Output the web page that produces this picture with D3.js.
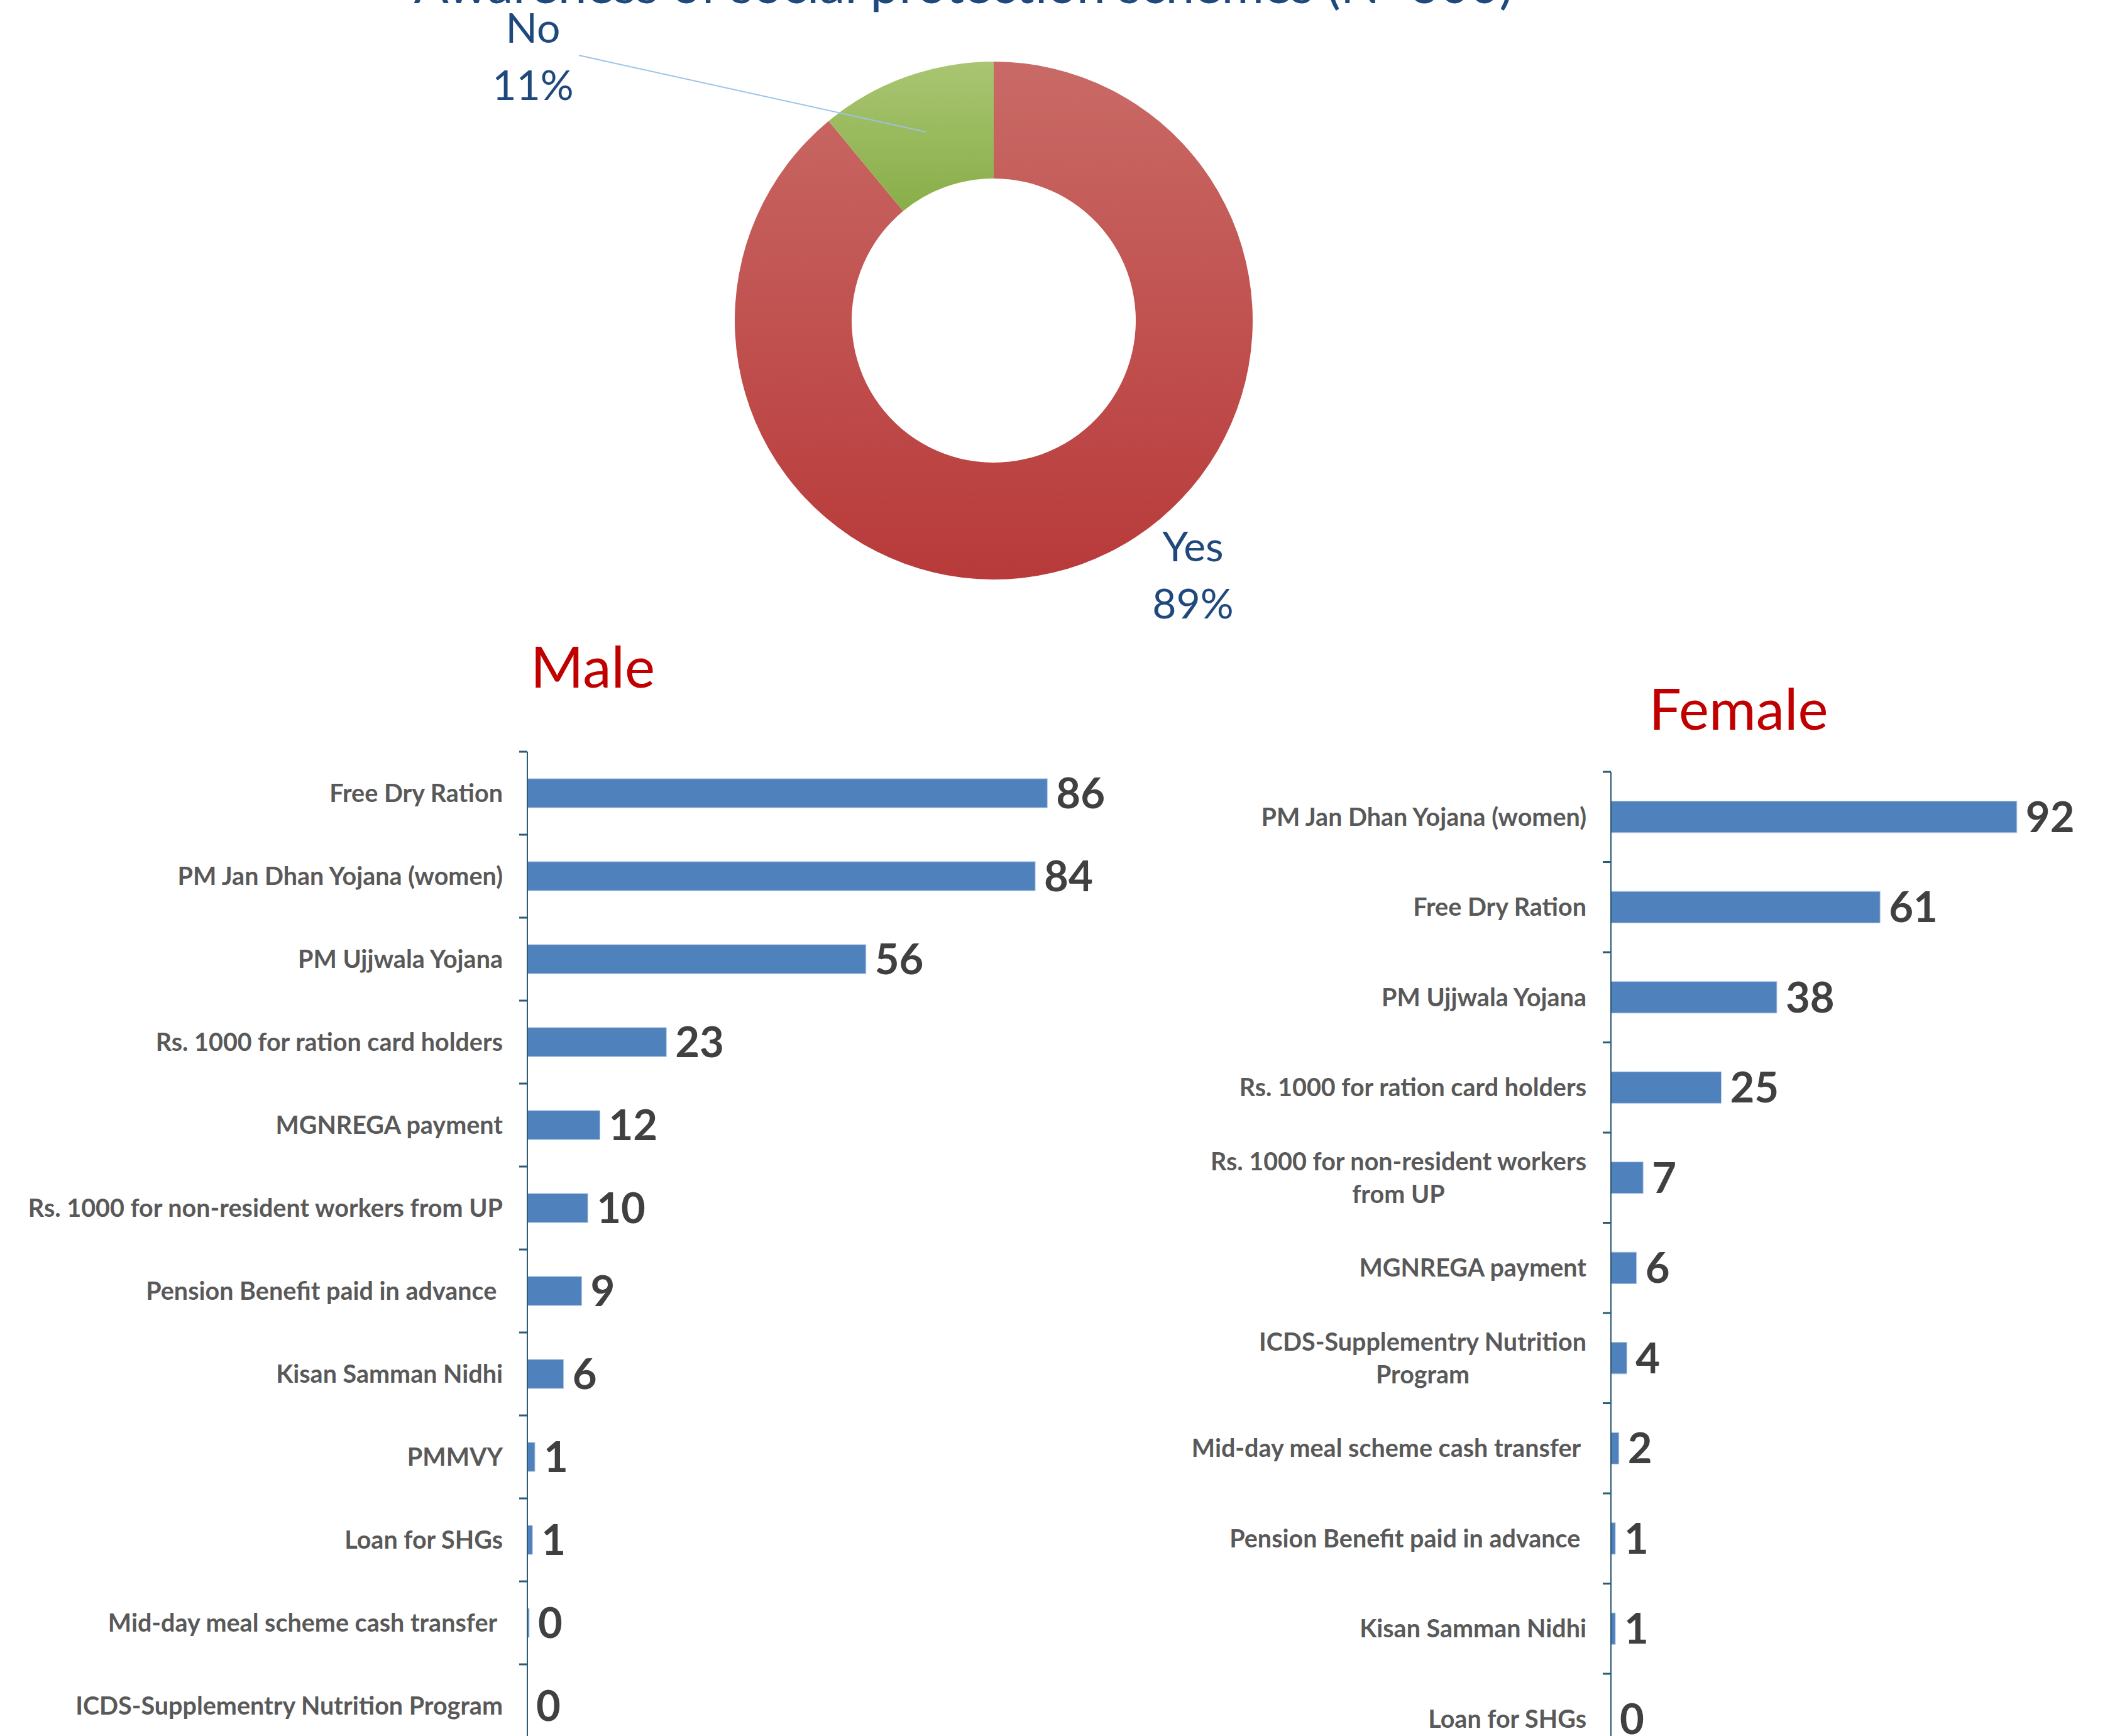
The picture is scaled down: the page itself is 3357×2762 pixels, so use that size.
<!DOCTYPE html>
<html lang="en">
<head>
    <meta charset="UTF-8">
    <title>Awareness of social protection schemes</title>
    <script src="https://cdn.jsdelivr.net/npm/d3@7"></script>
    <style>
        body { margin: 0; background: #ffffff; }
        text { font-family: Lato, "Open Sans", sans-serif; }
    </style>
</head>
<body>
<div id="container"></div>
<script>
    // donut data
    const pieLabels = ["Yes", "No"];
    const pieValues = [89, 11];

    // male schemes (top to bottom)
    const maleCategories = [
        "Free Dry Ration",
        "PM Jan Dhan Yojana (women)",
        "PM Ujjwala Yojana",
        "Rs. 1000 for ration card holders",
        "MGNREGA payment",
        "Rs. 1000 for non-resident workers from UP",
        "Pension Benefit paid in advance ",
        "Kisan Samman Nidhi",
        "PMMVY",
        "Loan for SHGs",
        "Mid-day meal scheme cash transfer ",
        "ICDS-Supplementry Nutrition Program"
    ];
    const maleValues = [86, 84, 56, 23, 12, 10, 9, 6, 1.25, 0.85, 0.3, 0];

    // female schemes (top to bottom)
    const femaleCategories = [
        "PM Jan Dhan Yojana (women)",
        "Free Dry Ration",
        "PM Ujjwala Yojana",
        "Rs. 1000 for ration card holders",
        "Rs. 1000 for non-resident workers\nfrom UP",
        "MGNREGA payment",
        "ICDS-Supplementry Nutrition\nProgram",
        "Mid-day meal scheme cash transfer ",
        "Pension Benefit paid in advance ",
        "Kisan Samman Nidhi",
        "Loan for SHGs"
    ];
    const femaleValues = [92, 61, 37.6, 25, 7.3, 5.8, 3.6, 1.8, 1, 1, 0];

    const W = 3357, H = 2762;
    let svg = d3.select("#container")
        .append("svg")
        .attr("width", W)
        .attr("height", H)
        .style("background-color", "#ffffff");

    let defs = svg.append("defs");
    function vGrad(id, top, bottom) {
        let g = defs.append("linearGradient").attr("id", id)
            .attr("x1", 0).attr("y1", 0).attr("x2", 0).attr("y2", 1);
        g.append("stop").attr("offset", "0%").attr("stop-color", top);
        g.append("stop").attr("offset", "100%").attr("stop-color", bottom);
    }
    vGrad("gYes", "#C96A66", "#B83A3A");
    vGrad("gNo", "#A9C572", "#89AE48");

    // title (mostly cut off at the top edge)
    svg.append("text")
        .attr("x", 1533).attr("y", 5)
        .attr("text-anchor", "middle")
        .style("font-size", "82px")
        .style("fill", "#1F497D")
        .text("Awareness of social protection schemes (N=300)");

    /* ---------------- donut ---------------- */
    const cx = 1581, cy = 510, rOut = 412, rIn = 226;
    let pie = d3.pie().sort(null)(pieValues);
    let arc = d3.arc().innerRadius(rIn).outerRadius(rOut);
    let donut = svg.append("g").attr("transform", `translate(${cx},${cy})`);
    donut.selectAll("path")
        .data(pie)
        .enter()
        .append("path")
        .attr("d", arc)
        .attr("fill", (d, i) => i === 0 ? "url(#gYes)" : "url(#gNo)");

    // labels, placed as offsets from the donut centre
    const labelOffsets = [[317, 383], [-733, -442]];
    pie.forEach((d, i) => {
        let lx = labelOffsets[i][0], ly = labelOffsets[i][1];
        if (i === 1) {
            let c = arc.centroid(d);
            donut.append("line")
                .attr("x1", lx + 73).attr("y1", ly + 20)
                .attr("x2", c[0]).attr("y2", c[1])
                .attr("stroke", "#9DC3E6")
                .attr("stroke-width", 2);
        }
        let t = donut.append("text")
            .attr("text-anchor", "middle")
            .style("font-size", "66px")
            .style("fill", "#1F497D");
        t.append("tspan").attr("x", lx).attr("y", ly).text(pieLabels[i]);
        t.append("tspan").attr("x", lx).attr("y", ly + 91)
            .text(Math.round(d.value / d3.sum(pieValues) * 100) + "%");
    });

    /* ---------------- bar charts ---------------- */
    function barChart(opt) {
        let g = svg.append("g");
        let n = opt.categories.length;
        let y = d3.scaleBand()
            .domain(opt.categories)
            .range([opt.top, opt.top + n * opt.step])
            .paddingInner(0.65)
            .paddingOuter(0.325);
        let x = d3.scaleLinear()
            .domain([0, 100])
            .range([opt.left, opt.left + opt.unit * 100]);

        g.append("text")
            .attr("x", opt.titleX).attr("y", opt.titleY)
            .attr("text-anchor", "middle")
            .style("font-size", "91px")
            .style("fill", "#C00000")
            .text(opt.title);

        g.selectAll("rect")
            .data(opt.values)
            .enter()
            .append("rect")
            .attr("x", x(0))
            .attr("y", (d, i) => y(opt.categories[i]))
            .attr("width", d => x(d) - x(0))
            .attr("height", y.bandwidth())
            .attr("fill", "#4F81BD")
            .attr("stroke", "#B9CDE5")
            .attr("stroke-width", d => d > 0 ? 1 : 0);

        // axis line and ticks between the categories
        let axis = g.append("g").attr("transform", `translate(${x(0)},0)`);
        axis.append("line")
            .attr("y1", opt.top).attr("y2", opt.top + n * y.step())
            .attr("stroke", "#2A5C73").attr("stroke-width", 2);
        axis.selectAll(".tick")
            .data(d3.range(n + 1))
            .enter()
            .append("line")
            .attr("x1", -13).attr("x2", 0)
            .attr("y1", i => opt.top + i * y.step())
            .attr("y2", i => opt.top + i * y.step())
            .attr("stroke", "#2A5C73").attr("stroke-width", 3);

        // category labels
        opt.categories.forEach(c => {
            let lines = c.split("\n");
            let yc = y(c) + y.bandwidth() / 2;
            let t = g.append("text")
                .style("font-size", "39.5px")
                .style("font-weight", "bold")
                .style("fill", "#595959")
                .style("white-space", "pre");
            lines.forEach((ln, k) => {
                t.append("tspan")
                    .attr("y", yc + (k - (lines.length - 1) / 2) * 52)
                    .attr("dy", "0.35em")
                    .text(ln);
            });
            // right align the block, centre its lines
            let widths = [];
            t.selectAll("tspan").each(function() { widths.push(this.getComputedTextLength()); });
            let maxW = d3.max(widths);
            let blockCenter = x(0) - 39 - maxW / 2;
            t.attr("text-anchor", "middle");
            t.selectAll("tspan").attr("x", blockCenter);
        });

        // value labels
        g.selectAll(".val")
            .data(opt.values)
            .enter()
            .append("text")
            .attr("x", d => x(d) + 14)
            .attr("y", (d, i) => y(opt.categories[i]) + y.bandwidth() / 2)
            .attr("dy", "0.36em")
            .style("font-size", "67px")
            .style("font-weight", "bold")
            .style("fill", "#404040")
            .text(d => Math.round(d));
    }

    barChart({
        title: "Male", titleX: 943, titleY: 1094,
        categories: maleCategories, values: maleValues,
        left: 839, unit: 9.62, top: 1196, step: 132
    });

    barChart({
        title: "Female", titleX: 2766, titleY: 1161,
        categories: femaleCategories, values: femaleValues,
        left: 2563, unit: 7.02, top: 1228, step: 143.5
    });
</script>
</body>
</html>
